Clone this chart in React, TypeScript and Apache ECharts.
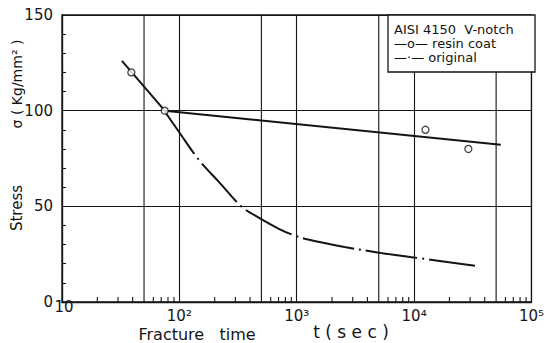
import React, { useEffect, useRef } from "react";
import * as echarts from "echarts";

const xTickValues = [10, 100, 1000, 10000, 100000];
const xTickLabels = ["10", "10²", "10³", "10⁴", "10⁵"];
const yTickLabels = ["0", "50", "100", "150"];
const extraGridX = [50, 500, 5000, 50000];
const minorTickX = [20, 30, 40, 60, 70, 80, 90, 200, 300, 400, 600, 700, 800, 900, 2000, 3000, 4000, 6000, 7000, 8000, 9000, 20000, 30000, 40000, 60000, 70000, 80000, 90000];

const resinLineT = [32.4, 75, 54800];
const resinLineS = [126, 100, 82.2];
const resinPointT = [39, 75, 12500, 29000];
const resinPointS = [120, 100, 90, 80];
const originalT = [75, 99, 147, 217, 341, 487, 697, 933, 1248, 2550, 4875, 9950, 33000];
const originalS = [99.6, 89, 74.2, 62.8, 49.7, 43.7, 38.4, 35, 32.7, 28.8, 25.9, 23.3, 18.9];

const FONT = "DejaVu Sans";
const INK = "#141414";

export default function App() {
  const ref = useRef<HTMLDivElement>(null);
  useEffect(() => {
    if (!ref.current) return;
    const chart = echarts.init(ref.current, undefined, { renderer: "svg" });
    const pair = (a: number[], b: number[]) => a.map((v, i) => [v, b[i]]);
    const legendText = (text: string, y: number) => ({
      type: "text",
      z: 101,
      x: 394,
      y,
      style: { text, fontFamily: FONT, fontSize: 13, lineHeight: 13, fill: INK, align: "left", verticalAlign: "middle" },
    });
    chart.setOption({
      animation: false,
      backgroundColor: "#ffffff",
      grid: {
        left: 62,
        top: 15,
        right: 12,
        bottom: 41,
        show: true,
        borderColor: INK,
        borderWidth: 1.3,
      },
      xAxis: {
        type: "log",
        logBase: 10,
        min: 10,
        max: 100000,
        axisLine: { show: true, lineStyle: { color: INK, width: 1.3 } },
        axisTick: { show: false, inside: true },
        splitLine: { show: true, lineStyle: { color: INK, width: 1.1 } },
        axisLabel: {
          color: INK,
          fontFamily: FONT,
          fontSize: 15,
          margin: 6,
          formatter: (v: number) => {
            const i = xTickValues.findIndex((t) => Math.abs(Math.log10(t) - Math.log10(v)) < 1e-6);
            return i <= 0 ? "" : xTickLabels[i];
          },
        },
      },
      yAxis: {
        type: "value",
        min: 0,
        max: 150,
        interval: 50,
        axisLine: { show: true, lineStyle: { color: INK, width: 1.3 } },
        axisTick: { show: false, inside: true },
        minorTick: { show: true, splitNumber: 5, length: 4, lineStyle: { color: INK, width: 1.1 } },
        splitLine: { show: true, lineStyle: { color: INK, width: 1.1 } },
        axisLabel: {
          color: INK,
          fontFamily: FONT,
          fontSize: 15,
          margin: 9,
          formatter: (v: number) => yTickLabels[Math.round(v / 50)] ?? "",
        },
      },
      series: [
        {
          type: "custom",
          silent: true,
          clip: false,
          data: extraGridX.map((t) => [t, 0]),
          renderItem: (_p: any, api: any) => {
            const a = api.coord([api.value(0), 0]);
            const b = api.coord([api.value(0), 150]);
            return {
              type: "line",
              shape: { x1: a[0], y1: a[1], x2: b[0], y2: b[1] },
              style: { stroke: INK, lineWidth: 1.1 },
            };
          },
          z: 1,
        },
        {
          type: "custom",
          silent: true,
          clip: false,
          data: minorTickX.map((t) => [t, 0]),
          renderItem: (_p: any, api: any) => {
            const a = api.coord([api.value(0), 0]);
            return {
              type: "line",
              shape: { x1: a[0], y1: a[1], x2: a[0], y2: a[1] - 5 },
              style: { stroke: INK, lineWidth: 1.1 },
            };
          },
          z: 1,
        },
        {
          name: "resin coat",
          type: "line",
          data: pair(resinLineT, resinLineS),
          showSymbol: false,
          lineStyle: { color: INK, width: 2 },
          z: 3,
        },
        {
          name: "original",
          type: "line",
          data: pair(originalT, originalS),
          smooth: 0.35,
          showSymbol: false,
          lineStyle: { color: INK, width: 2, type: [52, 5, 2, 5] },
          z: 3,
        },
        {
          name: "resin coat points",
          type: "scatter",
          data: pair(resinPointT, resinPointS),
          symbol: "circle",
          symbolSize: 7,
          itemStyle: { color: "#ffffff", borderColor: INK, borderWidth: 1.3 },
          z: 4,
        },
      ],
      graphic: [
        {
          type: "text",
          x: 64,
          y: 307,
          style: { text: xTickLabels[0], fontFamily: FONT, fontSize: 15, fill: INK, align: "center", verticalAlign: "middle" },
        },
        {
          type: "text",
          x: 17,
          y: 84,
          rotation: Math.PI / 2,
          style: { text: "σ ( Kg/mm² )", fontFamily: FONT, fontSize: 14, fill: INK, align: "center", verticalAlign: "middle" },
        },
        {
          type: "text",
          x: 17,
          y: 208,
          rotation: Math.PI / 2,
          style: { text: "Stress", fontFamily: FONT, fontSize: 15, fill: INK, align: "center", verticalAlign: "middle" },
        },
        {
          type: "text",
          x: 197,
          y: 334,
          style: { text: "Fracture   time", fontFamily: FONT, fontSize: 16, fill: INK, align: "center", verticalAlign: "middle" },
        },
        {
          type: "text",
          x: 351,
          y: 332,
          style: { text: "t ( s e c )", fontFamily: FONT, fontSize: 17, fill: INK, align: "center", verticalAlign: "middle" },
        },
        {
          type: "rect",
          z: 100,
          shape: { x: 388, y: 15, width: 147, height: 57 },
          style: { fill: "#ffffff", stroke: INK, lineWidth: 1.3 },
        },
        legendText("AISI 4150  V-notch", 29.5),
        legendText("—o— resin coat", 43.5),
        legendText("—·— original", 57.5),
      ],
    });
    return () => chart.dispose();
  }, []);
  return <div ref={ref} style={{ width: 547, height: 343, position: "absolute", left: 0, top: 0 }} />;
}
